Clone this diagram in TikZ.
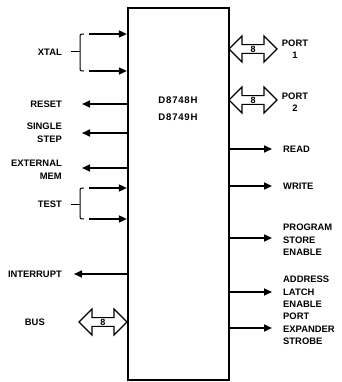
\documentclass[tikz,border=0pt]{standalone}
\usepackage{fontspec}
\setmainfont{Liberation Sans}
\usetikzlibrary{shapes.arrows,arrows.meta}
\begin{document}
\begin{tikzpicture}[x=1pt,y=-1pt,
  lbl/.style={font=\bfseries\fontsize{9.4}{12.5}\selectfont, inner sep=0pt},
  sig/.style={line width=1.6pt,-{Triangle[length=8pt,width=7pt]}},
  bracepath/.style={line width=1pt},
  dblarrow/.style={double arrow, draw, line width=1.2pt, minimum height=48pt, minimum width=26pt,
     double arrow head extend=7.5pt, inner sep=0pt, font=\bfseries\fontsize{9}{9}\selectfont}]
\useasboundingbox (0,0) rectangle (341,382);
% chip
\node[draw, line width=2.2pt, minimum width=101pt, minimum height=372pt, inner sep=0pt] (chip) at (178.5,194) {};
\node[lbl, align=center, font=\bfseries\fontsize{9.6}{17}\selectfont] (name) at (178,109) {\addfontfeature{LetterSpace=8}D8748H\\\addfontfeature{LetterSpace=8}D8749H};
% left side
\coordinate (x1) at (89,34);
\coordinate (x2) at (89,71);
\draw[sig] (x1) -- (x1 -| chip.west);
\draw[sig] (x2) -- (x2 -| chip.west);
\draw[bracepath] (84,34) .. controls (80,34) .. (80,38) -- (80,67) .. controls (80,71) .. (84,71);
\coordinate (xb) at (80,52);
\coordinate (xt) at (71,52);
\draw[bracepath] (xb) -- (xt);
\node[lbl, anchor=east] (xtal) at (62,52) {XTAL};

\coordinate (rs) at (82,104);
\draw[sig] (rs -| chip.west) -- (rs);
\node[lbl, anchor=east] (reset) at (62,104) {RESET};

\coordinate (ss) at (82,133);
\draw[sig] (ss -| chip.west) -- (ss);
\node[lbl, anchor=east, align=right] (sstep) at (62,133) {SINGLE\\STEP};

\coordinate (em) at (82,168);
\draw[sig] (em -| chip.west) -- (em);
\node[lbl, anchor=east, align=right] (extmem) at (62,170) {EXTERNAL\\MEM};

\coordinate (t1) at (89,188);
\coordinate (t2) at (89,219);
\draw[sig] (t1) -- (t1 -| chip.west);
\draw[sig] (t2) -- (t2 -| chip.west);
\draw[bracepath] (84,188) .. controls (80,188) .. (80,192) -- (80,215) .. controls (80,219) .. (84,219);
\coordinate (tb) at (80,204);
\coordinate (tt) at (71,204);
\draw[bracepath] (tb) -- (tt);
\node[lbl, anchor=east] (test) at (62,204) {TEST};

\coordinate (ir) at (74,274);
\draw[sig] (ir -| chip.west) -- (ir);
\node[lbl, anchor=east] (intr) at (62,274) {INTERRUPT};

\node[dblarrow] (busarr) at (103,322) {8};
\node[lbl, anchor=east] (bus) at (45,322) {BUS};

% right side
\node[dblarrow] (p1arr) at (253,49) {8};
\node[lbl, align=center] (p1) at (295,49) {PORT\\1};
\node[dblarrow] (p2arr) at (253,100) {8};
\node[lbl, align=center] (p2) at (295,102) {PORT\\2};

\coordinate (rd) at (272,149);
\draw[sig] (rd -| chip.east) -- (rd);
\node[lbl, anchor=west] (read) at (283,149) {READ};

\coordinate (wr) at (272,186);
\draw[sig] (wr -| chip.east) -- (wr);
\node[lbl, anchor=west] (write) at (283,186) {WRITE};

\coordinate (ps) at (272,238);
\draw[sig] (ps -| chip.east) -- (ps);
\node[lbl, anchor=west, align=left] (pse) at (283,240) {PROGRAM\\STORE\\ENABLE};

\coordinate (al) at (272,292);
\draw[sig] (al -| chip.east) -- (al);
\node[lbl, anchor=west, align=left] (ale) at (283,292) {ADDRESS\\LATCH\\ENABLE};

\coordinate (pe) at (272,328);
\draw[sig] (pe -| chip.east) -- (pe);
\node[lbl, anchor=west, align=left] (pes) at (283,329) {PORT\\EXPANDER\\STROBE};
\end{tikzpicture}
\end{document}
